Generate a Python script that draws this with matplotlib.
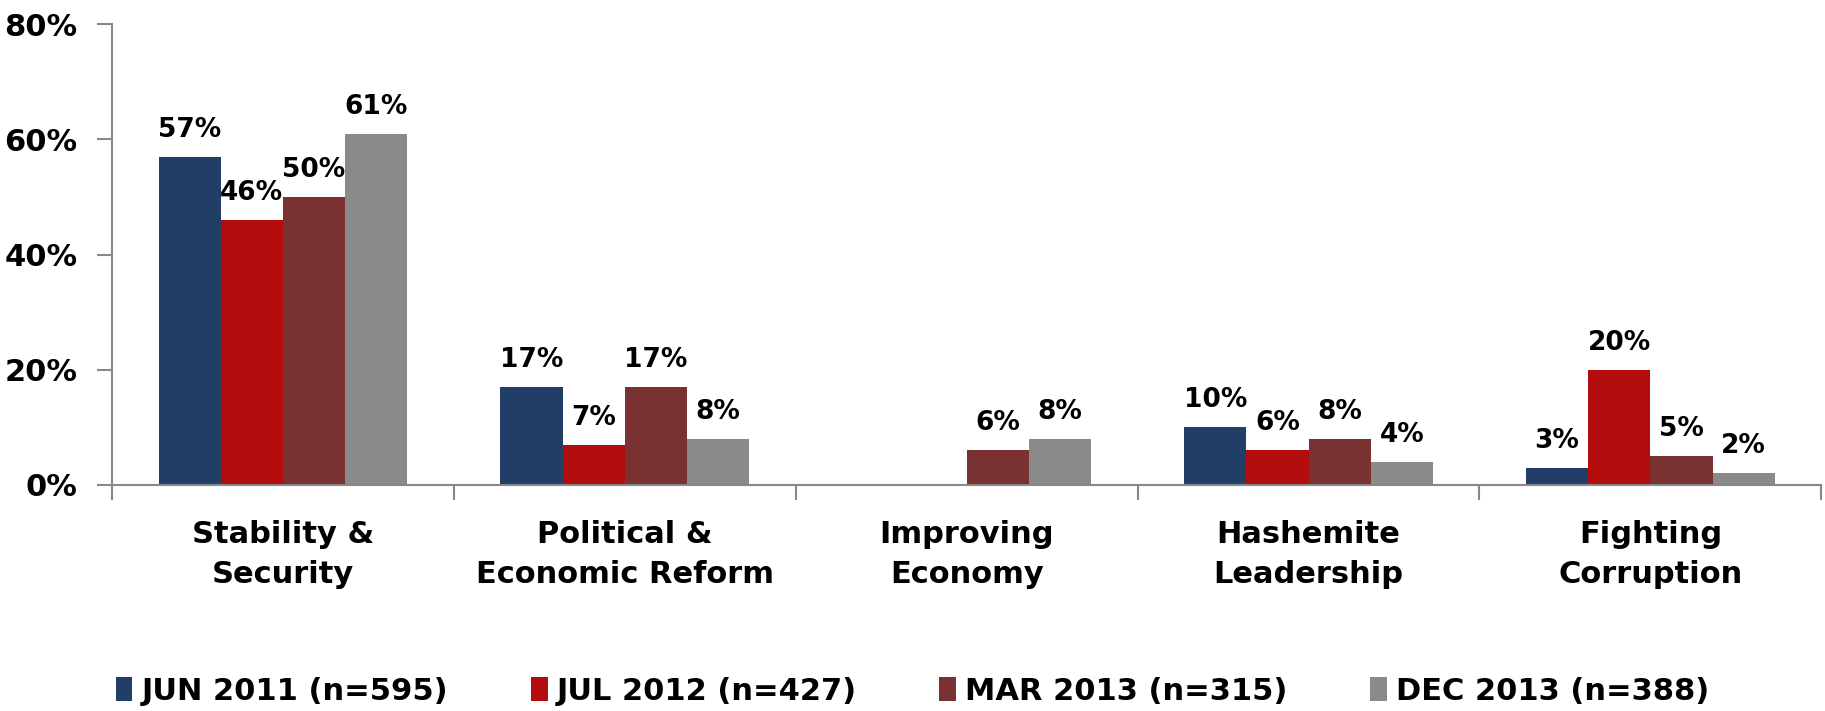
import numpy as np
import matplotlib
matplotlib.use("Agg")
import matplotlib.pyplot as plt
from matplotlib.ticker import FixedLocator, PercentFormatter

categories = ["Stability &\nSecurity", "Political &\nEconomic Reform", "Improving\nEconomy",
              "Hashemite\nLeadership", "Fighting\nCorruption"]
series_names = ["JUN 2011 (n=595)", "JUL 2012 (n=427)", "MAR 2013 (n=315)", "DEC 2013 (n=388)"]
jun2011 = [57, 17, np.nan, 10, 3]
jul2012 = [46, 7, np.nan, 6, 20]
mar2013 = [50, 17, 6, 8, 5]
dec2013 = [61, 8, 8, 4, 2]
y_ticks = [0, 20, 40, 60, 80]

colors = ["#213F66", "#B20C0C", "#7A3131", "#8A8A8A"]
series = [jun2011, jul2012, mar2013, dec2013]

plt.rcParams['font.family'] = ['DejaVu Sans']
plt.rcParams['font.weight'] = 'bold'

fig = plt.figure(figsize=(18.25, 7.11), dpi=100)
ax = fig.add_axes([0.0614, 0.318, 0.9366, 0.648])

x = np.arange(len(categories))
bw = 0.182
for i, (vals, c, name) in enumerate(zip(series, colors, series_names)):
    offs = (i - 1.5) * bw
    vals = np.array(vals, dtype=float)
    mask = ~np.isnan(vals)
    bars = ax.bar(x[mask] + offs, vals[mask], bw, color=c, label=name, zorder=2)
    for b, v in zip(bars, vals[mask]):
        ax.annotate(f"{int(v)}%", (b.get_x() + b.get_width() / 2, v),
                    xytext=(0, 10), textcoords="offset points",
                    ha="center", va="bottom", fontsize=19, fontweight="bold")

ax.set_xlim(-0.5, len(categories) - 0.5)
ax.set_ylim(0, 80)
ax.set_yticks(y_ticks)
ax.yaxis.set_major_formatter(PercentFormatter(decimals=0))
ax.set_xticks(x)
ax.set_xticklabels(categories, fontsize=22, fontweight="bold", linespacing=1.5)
ax.xaxis.set_minor_locator(FixedLocator(np.arange(len(categories) + 1) - 0.5))
ax.tick_params(axis="x", which="major", length=0, pad=25)
ax.tick_params(axis="x", which="minor", length=11, width=1.5, color="#888888", direction="out")
ax.tick_params(axis="y", length=11, width=1.5, color="#888888", labelsize=22, pad=14)
for lab in ax.get_yticklabels():
    lab.set_fontweight("bold")

for s in ["top", "right"]:
    ax.spines[s].set_visible(False)
for s in ["left", "bottom"]:
    ax.spines[s].set_color("#888888")
    ax.spines[s].set_linewidth(1.5)

fig.legend(loc="center", bbox_to_anchor=(0.5, 0.028), ncol=4, frameon=False,
           prop={"size": 22, "weight": "bold"}, handlelength=0.55, handleheight=0.8,
           handletextpad=0.3, columnspacing=2.7)

fig.savefig("out.png", dpi=100)
